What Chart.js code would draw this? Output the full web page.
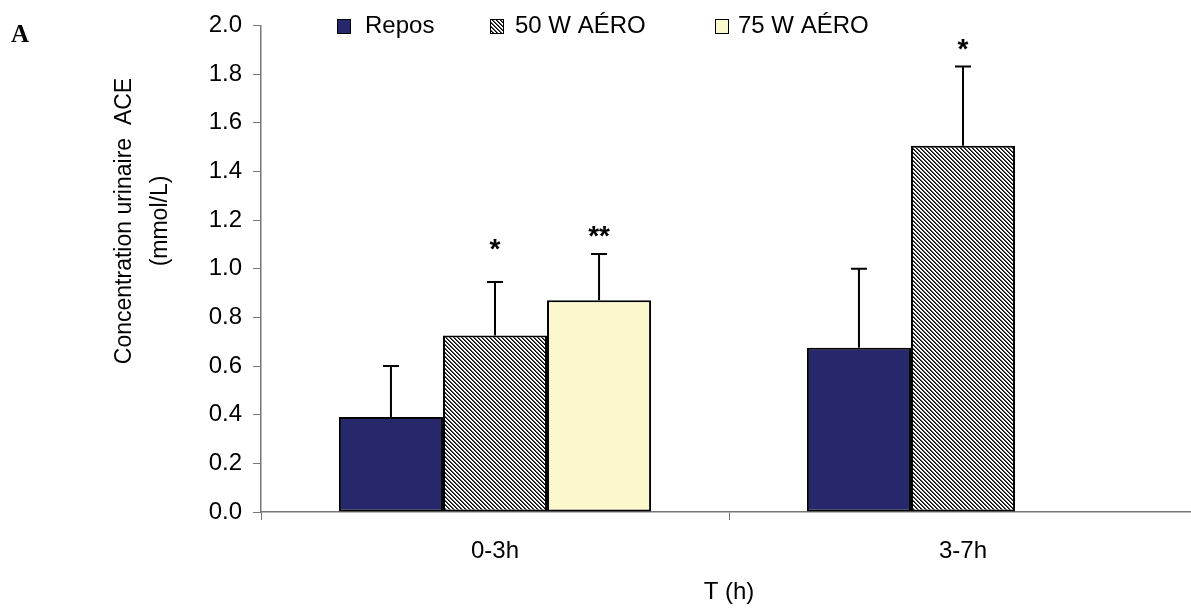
<!DOCTYPE html>
<html lang="fr">
<head>
    <meta charset="UTF-8">
    <title>Concentration urinaire ACE</title>
    <script src="https://cdn.jsdelivr.net/npm/chart.js"></script>
    <style>
        body { margin: 0; background: #fff; overflow: hidden; }
        .wrap { width: 1200px; height: 611px; }
    </style>
</head>
<body>
    <div class="wrap">
        <canvas id="aceChart" width="1200" height="611"></canvas>
    </div>

    <script>
        // données
        const categories = ['0-3h', '3-7h'];
        const seriesNames = ['Repos', '50 W AÉRO', '75 W AÉRO'];
        const repos = [0.39, 0.675];
        const aero50 = [0.725, 1.505];
        const aero75 = [0.87, null];
        const reposErr = [0.21, 0.325];
        const aero50Err = [0.22, 0.326];
        const aero75Err = [0.19, null];
        const aero50Stars = ['*', '*'];
        const aero50StarLevel = [1.11, 1.93];
        const aero75Stars = ['**', ''];
        const aero75StarLevel = [1.165, null];
        const yTicks = [0, 0.2, 0.4, 0.6, 0.8, 1.0, 1.2, 1.4, 1.6, 1.8, 2.0];

        const errors = [reposErr, aero50Err, aero75Err];
        const stars = [['', ''], aero50Stars, aero75Stars];
        const starLevels = [[null, null], aero50StarLevel, aero75StarLevel];

        // motif hachuré pour 50 W
        function hatch() {
            const c = document.createElement('canvas');
            c.width = 4; c.height = 4;
            const g = c.getContext('2d');
            g.fillStyle = '#fff';
            g.fillRect(0, 0, 4, 4);
            for (let y = 0; y < 4; y++) {
                for (let x = 0; x < 4; x++) {
                    const d = (x - y + 4) % 4;
                    if (d === 0) { g.fillStyle = '#000'; g.fillRect(x, y, 1, 1); }
                    if (d === 1) { g.fillStyle = '#555'; g.fillRect(x, y, 1, 1); }
                }
            }
            return g.createPattern(c, 'repeat');
        }
        const hatchFill = hatch();
        const fills = ['#27286b', hatchFill, '#fbf8ce'];

        Chart.defaults.font.family = '"Liberation Sans", Arial, sans-serif';
        Chart.defaults.color = '#000';

        const extras = {
            id: 'extras',
            afterDatasetsDraw(chart) {
                const ctx = chart.ctx;
                const y = chart.scales.y;
                ctx.save();
                ctx.strokeStyle = '#000';
                ctx.lineWidth = 2;
                chart.data.datasets.forEach((ds, i) => {
                    const meta = chart.getDatasetMeta(i);
                    meta.data.forEach((bar, j) => {
                        const v = ds.data[j];
                        if (v == null) return;
                        const top = y.getPixelForValue(v + errors[i][j]);
                        ctx.beginPath();
                        ctx.moveTo(bar.x, bar.y);
                        ctx.lineTo(bar.x, top);
                        ctx.moveTo(bar.x - 8, top);
                        ctx.lineTo(bar.x + 8, top);
                        ctx.stroke();
                        if (stars[i][j]) {
                            ctx.fillStyle = '#000';
                            ctx.font = 'bold 28px "Liberation Sans", Arial';
                            ctx.textAlign = 'center';
                            ctx.textBaseline = 'alphabetic';
                            ctx.fillText(stars[i][j], bar.x, y.getPixelForValue(starLevels[i][j]) + 16);
                        }
                    });
                });
                ctx.restore();
            },
            afterDraw(chart) {
                const ctx = chart.ctx;
                ctx.save();
                // légende
                const boxX = [337, 490, 715];
                const textX = [365, 515, 738];
                ctx.font = '24px "Liberation Sans", Arial';
                ctx.textBaseline = 'alphabetic';
                ctx.textAlign = 'left';
                seriesNames.forEach((name, i) => {
                    ctx.fillStyle = fills[i];
                    ctx.fillRect(boxX[i], 19, 13, 14);
                    ctx.strokeStyle = '#000';
                    ctx.lineWidth = 1;
                    ctx.strokeRect(boxX[i] + 0.5, 19.5, 13, 14);
                    ctx.fillStyle = '#000';
                    ctx.fillText(name, textX[i], 33);
                });
                // titre axe Y
                ctx.translate(0, 221);
                ctx.rotate(-Math.PI / 2);
                ctx.textAlign = 'center';
                ctx.textBaseline = 'middle';
                ctx.font = '23px "Liberation Sans", Arial';
                ctx.fillText('Concentration urinaire  ACE', 0, 125);
                ctx.fillText('(mmol/L)', 0, 161);
                ctx.restore();
                // lettre du panneau
                ctx.save();
                ctx.fillStyle = '#000';
                ctx.font = 'bold 25px "Liberation Serif", "Times New Roman", serif';
                ctx.textAlign = 'left';
                ctx.textBaseline = 'alphabetic';
                ctx.fillText('A', 11, 42);
                ctx.restore();
            }
        };

        new Chart(document.getElementById('aceChart'), {
            type: 'bar',
            data: {
                labels: categories,
                datasets: [repos, aero50, aero75].map((d, i) => ({
                    label: seriesNames[i],
                    data: d,
                    backgroundColor: fills[i],
                    borderColor: '#000',
                    borderWidth: 2,
                    borderSkipped: false,
                    categoryPercentage: 0.667,
                    barPercentage: 1.0
                }))
            },
            options: {
                responsive: false,
                animation: false,
                layout: { padding: { top: 22, right: 3, left: 0, bottom: 0 } },
                plugins: {
                    legend: { display: false },
                    tooltip: { enabled: false }
                },
                scales: {
                    x: {
                        afterFit(scale) { scale.height = 99; },
                        grid: { drawOnChartArea: false, drawTicks: true, tickLength: 8, color: '#777', offset: true },
                        border: { color: '#777', width: 1.5 },
                        ticks: { font: { size: 24 }, padding: 17, color: '#000' },
                        title: {
                            display: true,
                            text: 'T (h)',
                            font: { size: 24 },
                            color: '#000',
                            padding: { top: 19 }
                        }
                    },
                    y: {
                        min: 0,
                        max: 2,
                        afterFit(scale) { scale.width = 261; },
                        afterBuildTicks(scale) { scale.ticks = yTicks.map(v => ({ value: v })); },
                        grid: { drawOnChartArea: false, drawTicks: true, tickLength: 8, color: '#777' },
                        border: { color: '#777', width: 1.5 },
                        ticks: {
                            font: { size: 24 },
                            padding: 11,
                            color: '#000',
                            callback: v => Number(v).toFixed(1)
                        }
                    }
                }
            },
            plugins: [extras]
        });
    </script>
</body>
</html>
